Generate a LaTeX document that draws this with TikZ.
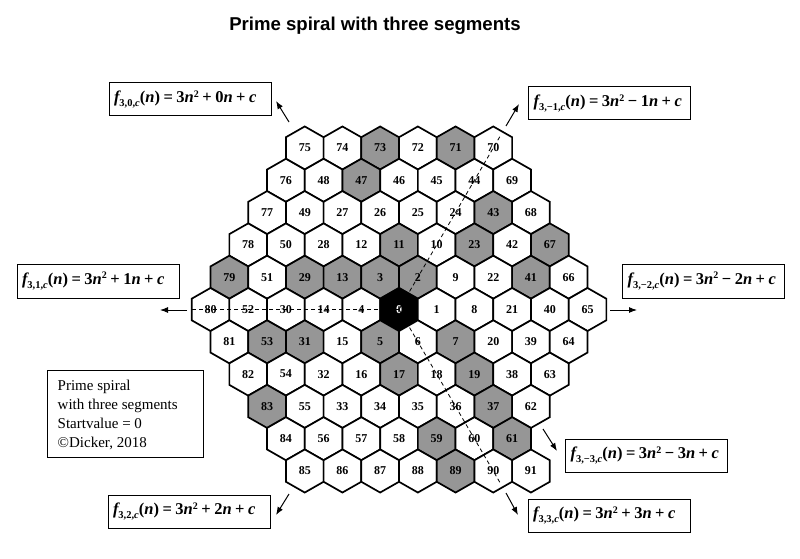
\documentclass[tikz,border=0pt]{standalone}
\usepackage{fontspec}
\setmainfont{Liberation Serif}
\newfontfamily\titlefont{Liberation Sans}
\usetikzlibrary{arrows.meta,calc}
\definecolor{primegray}{RGB}{150,150,150}
\newcommand\fsub[1]{\raisebox{-4pt}{\fontsize{10.5}{10.5}\selectfont\bfseries #1}}
\newcommand\op[1]{\hspace{3.5pt}#1\hspace{3.5pt}}
\newcommand\fform[3]{\mbox{{\bfseries\itshape f}\fsub{3,#1,\textit{c}}{\bfseries(\textit{n})\op{=}3\textit{n}\raisebox{5.5pt}{\fontsize{10}{10}\selectfont 2}\op{#2}#3\textit{n}\op{+}\textit{c}}}}
\begin{document}
\begin{tikzpicture}[x=1pt,y=-1pt,
  num/.style={font=\fontsize{12}{12}\selectfont\bfseries, inner sep=0pt},
  hexline/.style={line width=1.7pt, line join=miter},
  fbox/.style={draw, line width=1pt, minimum height=33pt, text width=152pt, inner xsep=5pt, inner ysep=0pt, align=left, font=\fontsize{16.5}{16.5}\selectfont},
  guide/.style={dashed, dash pattern=on 4pt off 3pt, line width=0.8pt},
  arr/.style={line width=1pt, -{Latex[length=8pt,width=6pt]}}]
\useasboundingbox (0,0) rectangle (800,559);
\fill[white] (0,0) rectangle (800,559);
% title
\node[font=\titlefont\bfseries\fontsize{18.6}{18.6}\selectfont] (title) at (375,26) {Prime spiral with three segments};
% primes
\foreach \p in {2,3,5,7,11,13,17,19,23,29,31,37,41,43,47,53,59,61,67,71,73,79,83,89}{\expandafter\xdef\csname pr\p\endcsname{1}}
\def\DX{37.7}\def\DY{32.3}\def\CX{399}\def\CY{309.5}
\foreach \r/\o/\lst in {
  -5/-2.5/{75,74,73,72,71,70},
  -4/-3/{76,48,47,46,45,44,69},
  -3/-3.5/{77,49,27,26,25,24,43,68},
  -2/-4/{78,50,28,12,11,10,23,42,67},
  -1/-4.5/{79,51,29,13,3,2,9,22,41,66},
  0/-5/{80,52,30,14,4,0,1,8,21,40,65},
  1/-4.5/{81,53,31,15,5,6,7,20,39,64},
  2/-4/{82,54,32,16,17,18,19,38,63},
  3/-3.5/{83,55,33,34,35,36,37,62},
  4/-3/{84,56,57,58,59,60,61},
  5/-2.5/{85,86,87,88,89,90,91}}{
  \foreach \v [count=\i from 0] in \lst {
    \pgfmathsetmacro\x{\CX+(\o+\i)*\DX}
    \pgfmathsetmacro\y{\CY+\r*\DY}
    \ifnum\v=0 \def\fc{black}\def\tc{white}\else
      \ifcsname pr\v\endcsname\def\fc{primegray}\else\def\fc{white}\fi\def\tc{black}\fi
    \path[hexline, draw, fill=\fc] (\x,\y) +(0,-21.53) -- +(18.85,-10.77) -- +(18.85,10.77) -- +(0,21.53) -- +(-18.85,10.77) -- +(-18.85,-10.77) -- cycle;
    \node[num, text=\tc] (c\v) at (\x,\y) {\v};
  }
}
% guide lines
\coordinate (dl) at (191,309.5);
\coordinate (du) at ($(c70)+(7.5,-12.9)$);
\coordinate (dd) at ($(c90)+(7.5,12.9)$);
\draw[guide] (c0.center) -- (dl);
\draw[guide] (c0.center) -- (du);
\draw[guide] (c0.center) -- (dd);
% formula boxes
\node[fbox] (f30) at (190,99.5) {\fform{0}{+}{0}};
\node[fbox] (f3m1) at (609.5,103.5) {\fform{−1}{−}{1}};
\node[fbox, minimum height=34pt] (f3m2) at (703.5,281) {\fform{−2}{−}{2}};
\node[fbox] (f3m3) at (646.5,455.5) {\fform{−3}{−}{3}};
\node[fbox] (f33) at (609,515.5) {\fform{3}{+}{3}};
\node[fbox] (f32) at (189,511.5) {\fform{2}{+}{2}};
\node[fbox, minimum height=34pt] (f31) at (98,281) {\fform{1}{+}{1}};
% info box
\node[draw, line width=1pt, minimum width=156pt, minimum height=87pt, inner sep=0pt] (info) at (125,413.5) {};
\node[anchor=north west, inner sep=0pt, align=left, font=\fontsize{15}{18.7}\selectfont] (infotext) at (57.5,380.3)
  {Prime spiral\\with three segments\\Startvalue = 0\\©Dicker, 2018};
% arrows
\coordinate (t0) at (289,122); \coordinate (h0) at (276,101);
\coordinate (t1) at (506,126); \coordinate (h1) at (519,104);
\coordinate (t2) at (610,310); \coordinate (h2) at (637,310);
\coordinate (t3) at (543,429); \coordinate (h3) at (557,451);
\coordinate (t4) at (506,493); \coordinate (h4) at (518,515);
\coordinate (t5) at (289,494); \coordinate (h5) at (276,515);
\coordinate (t6) at (187,310); \coordinate (h6) at (160,310);
\foreach \k in {0,...,6}{\draw[arr] (t\k) -- (h\k);}
\end{tikzpicture}
\end{document}
